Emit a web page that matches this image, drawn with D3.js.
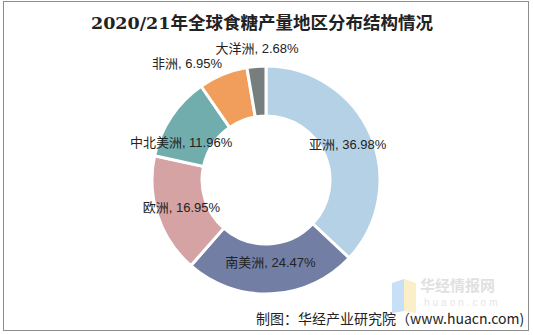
<!DOCTYPE html>
<html><head><meta charset="utf-8">
<script src="https://cdn.jsdelivr.net/npm/d3@7"></script>
<style>body{margin:0;background:#fff;}svg{display:block;}</style>
</head><body>
<script>
const title = "2020/21年全球食糖产量地区分布结构情况";
const regions = ["亚洲","南美洲","欧洲","中北美洲","非洲","大洋洲"];
const shares = [36.98,24.47,16.95,11.96,6.95,2.68];
const colors = ["#b5d1e5","#737ea5","#d5a3a3","#72adad","#f19e5c","#767f7e"];
const source = "制图：华经产业研究院（www.huacn.com)";

const W=533,H=335, cx=266, cy=180, R=114, r0=64;
const svg=d3.select("body").append("svg").attr("width",W).attr("height",H);
svg.append("rect").attr("x",3.5).attr("y",1.5).attr("width",525).attr("height",329)
  .attr("fill","#fff").attr("stroke","#8c8c8c").attr("stroke-width",1);

svg.append("text").attr("x",262).attr("y",29).attr("text-anchor","middle")
  .attr("font-family","'DejaVu Serif','Noto Sans CJK SC',serif").attr("font-weight","bold")
  .attr("font-size",17.5).attr("fill","#222").text(title);

const data = regions.map((d,i)=>({name:d,value:shares[i],color:colors[i]}));
const pie=d3.pie().value(d=>d.value).sort(null);
const arc=d3.arc().innerRadius(r0).outerRadius(R);
const g=svg.append("g").attr("transform",`translate(${cx},${cy})`);
const arcs=pie(data);
g.selectAll("path").data(arcs).join("path").attr("d",arc)
  .attr("fill",d=>d.data.color).attr("stroke","#fff").attr("stroke-width",3);

const labelArc=d3.arc().innerRadius((R+r0)/2).outerRadius((R+r0)/2);
g.selectAll("text.lab").data(arcs).join("text").attr("class","lab")
  .attr("font-family","'Liberation Sans','Noto Sans CJK SC',sans-serif")
  .attr("font-size",13).attr("fill","#222").attr("dominant-baseline","central")
  .each(function(d){
    const sel=d3.select(this);
    const pct=d.data.value;
    let x,y,anchor="middle";
    if(pct<10){
      const a=(d.startAngle+d.endAngle)/2;
      const rr=R+16;
      x=rr*Math.sin(a); y=-rr*Math.cos(a);
      if(d.index===5){ x+=2; y+=-2; }
      else { x+=-30; y+=4; }
    } else {
      [x,y]=labelArc.centroid(d);
      if(d.data.name==="中北美洲"){ x-=11; y+=12; }
      if(d.data.name==="南美洲"){ y-=6; }
    }
    sel.attr("x",x).attr("y",y).attr("text-anchor",anchor)
      .text(d.data.name+", "+pct.toFixed(2)+"%");
  });

// watermark
const wm=svg.append("g").attr("opacity",0.55);
wm.append("path").attr("d","M392,283 L404,279 L404,311 L392,313 Z").attr("fill","#9cc7f2");
wm.append("path").attr("d","M404,279 L416,283 L416,313 L404,311 Z").attr("fill","#f7e39a");
wm.append("text").attr("x",420).attr("y",291).attr("font-family","'Noto Sans CJK SC',sans-serif")
  .attr("font-weight","bold").attr("font-size",15).attr("fill","#c8c8c8").text("华经情报网");
wm.append("text").attr("x",424).attr("y",306).attr("font-family","'Liberation Sans',sans-serif")
  .attr("font-size",10).attr("letter-spacing",3).attr("fill","#d0d0d0").text("huaon.com");

svg.append("text").attr("x",256).attr("y",324)
  .attr("font-family","'Noto Sans CJK SC',sans-serif").attr("font-size",14)
  .attr("fill","#222").text(source);
</script>
</body></html>
